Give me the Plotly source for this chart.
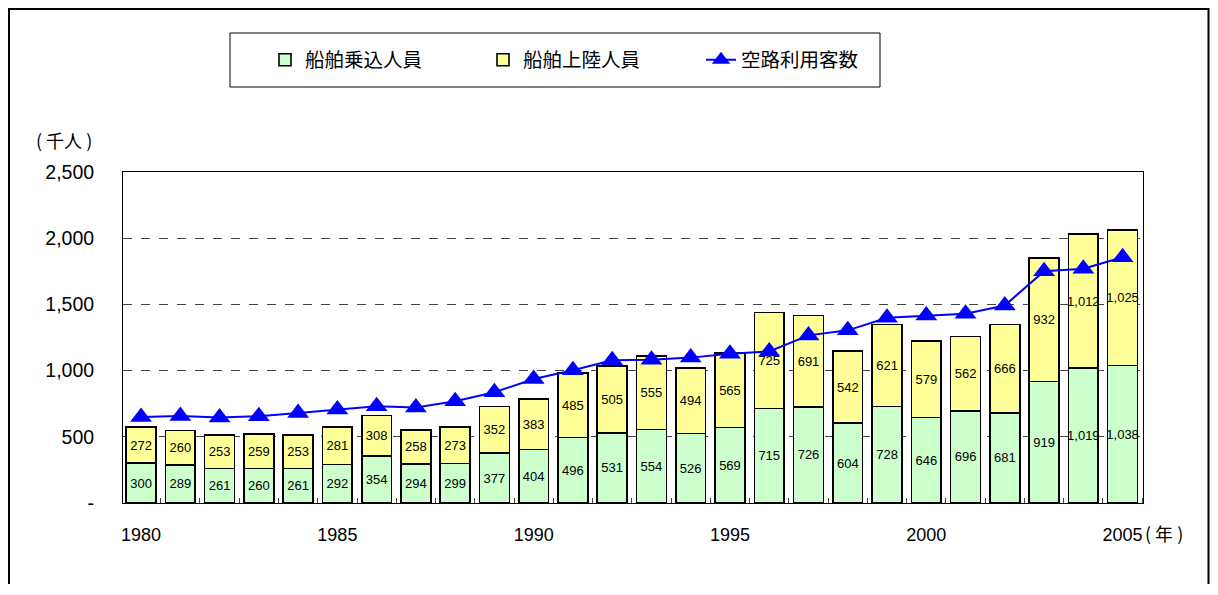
import plotly.graph_objects as go

years = list(range(1980, 2006))
boarding = [300, 289, 261, 260, 261, 292, 354, 294, 299, 377, 404, 496, 531, 554, 526, 569,
            715, 726, 604, 728, 646, 696, 681, 919, 1019, 1038]
landing = [272, 260, 253, 259, 253, 281, 308, 258, 273, 352, 383, 485, 505, 555, 494, 565,
           725, 691, 542, 621, 579, 562, 666, 932, 1012, 1025]
air = [650, 658, 646, 656, 680, 706, 731, 721, 769, 836, 937, 1002, 1078, 1082, 1098, 1128,
       1145, 1266, 1304, 1399, 1417, 1430, 1492, 1751, 1769, 1856]

x_tickvals = [1980, 1985, 1990, 1995, 2000, 2005]
x_ticktext = ["1980", "1985", "1990", "1995", "2000", "2005"]
y_tickvals = [0, 500, 1000, 1500, 2000, 2500]
y_ticktext = ["-", "500", "1,000", "1,500", "2,000", "2,500"]

FONT = "Liberation Sans, Arial, sans-serif"
CJK = "Noto Sans CJK JP, sans-serif"

# plot-area geometry in screen pixels (page has 8px body offset)
OFF = 8
FW, FH = 1202, 576
L, R, T, B = 123, 1143, 172, 503
W, H = R - L, B - T
def px(x):
    return (x - L) / W
def py(y):
    return (B - y) / H

fig = go.Figure()
fig.add_trace(go.Bar(
    x=years, y=boarding, name="船舶乗込人員", width=0.76,
    marker=dict(color="#CCFFCC", line=dict(color="black", width=1.6)),
    texttemplate="%{y:,}", textposition="inside", insidetextanchor="middle",
    textangle=0, constraintext="none",
    textfont=dict(family=FONT, size=13, color="black"),
))
fig.add_trace(go.Bar(
    x=years, y=landing, name="船舶上陸人員", width=0.76,
    marker=dict(color="#FFFF99", line=dict(color="black", width=1.6)),
    texttemplate="%{y:,}", textposition="inside", insidetextanchor="middle",
    textangle=0, constraintext="none",
    textfont=dict(family=FONT, size=13, color="black"),
))
fig.add_trace(go.Scatter(
    x=years, y=air, name="空路利用客数", mode="lines+markers",
    line=dict(color="#0000FF", width=2),
    marker=dict(symbol="triangle-up", size=19, color="#0000FF"),
))

fig.update_layout(
    width=FW, height=FH,
    barmode="stack",
    paper_bgcolor="white", plot_bgcolor="white",
    margin=dict(l=L - OFF, r=FW + OFF - R, t=T - OFF, b=FH + OFF - B, autoexpand=False),
    font=dict(family=FONT, size=17, color="black"),
    showlegend=True,
    legend=dict(
        orientation="h", x=px(265), y=py(60), xanchor="left", yanchor="middle",
        font=dict(family=CJK, size=19.5, color="black"),
        bgcolor="rgba(0,0,0,0)", borderwidth=0,
        entrywidth=173, entrywidthmode="pixels",
        traceorder="normal",
    ),
    xaxis=dict(
        range=[1979.54, 2005.52], tickvals=x_tickvals, ticktext=x_ticktext,
        ticks="", showgrid=False, zeroline=False,
        showline=True, linecolor="black", linewidth=1, mirror=True,
        ticklabelstandoff=15,
        tickfont=dict(family=FONT, size=18, color="black"),
        minor=dict(ticks="inside", tick0=1979.5, dtick=1, ticklen=5,
                   tickcolor="#444", showgrid=False),
    ),
    yaxis=dict(
        range=[0, 2500], tickvals=y_tickvals, ticktext=y_ticktext,
        ticks="", showgrid=True, gridcolor="#444", griddash="dash", gridwidth=1,
        zeroline=False,
        showline=True, linecolor="black", linewidth=1, mirror=True,
        ticklabelstandoff=24,
        tickfont=dict(family=FONT, size=19.5, color="black"),
    ),
    shapes=[
        dict(type="rect", xref="paper", yref="paper",
             x0=px(9), x1=px(1208.5), y0=py(620), y1=py(9),
             line=dict(color="black", width=2), fillcolor="rgba(0,0,0,0)", layer="above"),
        dict(type="rect", xref="paper", yref="paper",
             x0=px(230), x1=px(880), y0=py(87), y1=py(33),
             line=dict(color="black", width=1), fillcolor="rgba(0,0,0,0)", layer="above"),
    ],
    annotations=[
        dict(text="( 千人 )", xref="paper", yref="paper", x=px(64), y=py(140),
             xanchor="center", yanchor="middle", showarrow=False,
             font=dict(family=CJK, size=18, color="black")),
        dict(text="( 年 )", xref="paper", yref="paper", x=px(1143), y=py(533),
             xanchor="left", yanchor="middle", showarrow=False,
             font=dict(family=CJK, size=18, color="black")),
    ],
)

fig.write_html("out.html")
